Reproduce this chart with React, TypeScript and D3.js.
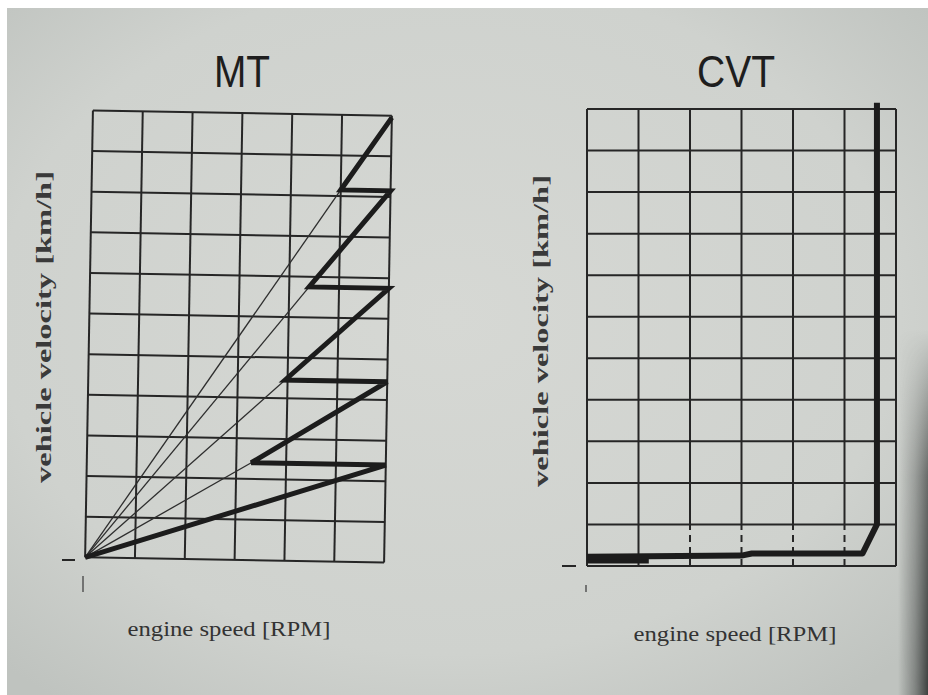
import { scaleLinear, line, range } from 'd3';

const W = 928;
const H = 695;
const GRID_COLS = 6;
const GRID_ROWS = 11;

// MT: vehicle velocity at each upshift and engine speed right after it (grid units)
const mtShiftVelocity = [2.4, 4.45, 6.75, 9.15];
const mtShiftRpm = [3.3, 3.95, 4.4, 5.0];
const mtRedline = 6;
const mtTopVelocity = 10.95;

// CVT: engine speed held nearly constant while velocity climbs
const cvtRpm = [0, 3.0, 3.2, 5.35, 5.63, 5.63];
const cvtVelocity = [0.22, 0.25, 0.3, 0.3, 1.0, 11.15];
const cvtLaunchRpm = [0, 1.2];
const cvtLaunchVelocity = [0.17, 0.17];

const titles = ['MT', 'CVT'];
const xLabel = 'engine speed [RPM]';
const yLabel = 'vehicle velocity [km/h]';

const INK = '#262626';

type Pt = [number, number];

const Grid = ({ x, y, dashedBottom }: { x: any; y: any; dashedBottom: number[] }) => (
  <g stroke={INK} strokeWidth={2} fill="none">
    {range(GRID_COLS + 1).map((i) =>
      dashedBottom.includes(i) ? (
        <g key={'v' + i}>
          <line x1={x(i)} x2={x(i)} y1={y(1)} y2={y(GRID_ROWS)} />
          <line x1={x(i)} x2={x(i)} y1={y(0)} y2={y(1)} strokeDasharray="7 5" />
        </g>
      ) : (
        <line key={'v' + i} x1={x(i)} x2={x(i)} y1={y(0)} y2={y(GRID_ROWS)} />
      )
    )}
    {range(GRID_ROWS + 1).map((j) => (
      <line key={'h' + j} x1={x(0)} x2={x(GRID_COLS)} y1={y(j)} y2={y(j)} />
    ))}
  </g>
);

const Labels = ({ cx, title, titleW, xl, yl }: { cx: number; title: string; titleW: number; xl: Pt; yl: Pt }) => (
  <g fill={INK}>
    <text
      x={cx}
      y={87}
      textAnchor="middle"
      fontFamily="Liberation Sans, Arial, sans-serif"
      fontSize={44}
      textLength={titleW}
      lengthAdjust="spacingAndGlyphs"
      fill="#1e1e1e"
    >
      {title}
    </text>
    <text
      x={xl[0]}
      y={xl[1]}
      textAnchor="middle"
      fontFamily="Liberation Serif, Times New Roman, serif"
      fontSize={22}
      textLength={203}
      lengthAdjust="spacingAndGlyphs"
      fill="#333"
    >
      {xLabel}
    </text>
    <text
      transform={`translate(${yl[0]}, ${yl[1]}) rotate(-90)`}
      textAnchor="middle"
      dominantBaseline="middle"
      fontFamily="Liberation Serif, Times New Roman, serif"
      fontWeight="bold"
      fontSize={20}
      textLength={312}
      lengthAdjust="spacingAndGlyphs"
      fill="#3a3a3a"
    >
      {yLabel}
    </text>
  </g>
);

const MTPanel = () => {
  const x = scaleLinear().domain([0, GRID_COLS]).range([89, 388]);
  const y = scaleLinear().domain([0, GRID_ROWS]).range([560, 113]);
  const path = line<Pt>()
    .x((d) => x(d[0]))
    .y((d) => y(d[1]));

  const thick: Pt[] = [[0, 0]];
  mtShiftVelocity.forEach((v, i) => {
    thick.push([mtRedline, v]);
    thick.push([mtShiftRpm[i], v]);
  });
  thick.push([mtRedline, mtTopVelocity]);

  return (
    <g>
      <g transform={`rotate(1, ${x(3)}, ${y(5.5)})`}>
        <Grid x={x} y={y} dashedBottom={[]} />
        <g fill="none" stroke="#2e2e2e" strokeWidth={1.3}>
          {mtShiftVelocity.map((v, i) => (
            <path key={i} d={path([[0, 0], [mtShiftRpm[i], v]]) ?? ''} />
          ))}
        </g>
        <path d={path(thick) ?? ''} fill="none" stroke="#1c1c1c" strokeWidth={5} strokeLinejoin="miter" strokeMiterlimit={3} />
      </g>
      <line x1={62} x2={75} y1={560} y2={560} stroke={INK} strokeWidth={2} />
      <line x1={83} x2={83} y1={576} y2={592} stroke="#555" strokeWidth={1.5} />
      <Labels cx={242} title={titles[0]} titleW={56} xl={[229, 636]} yl={[46, 327]} />
    </g>
  );
};

const CVTPanel = () => {
  const x = scaleLinear().domain([0, GRID_COLS]).range([587, 896]);
  const y = scaleLinear().domain([0, GRID_ROWS]).range([566, 109]);
  const path = line<Pt>()
    .x((d) => x(d[0]))
    .y((d) => y(d[1]));
  const main: Pt[] = cvtRpm.map((r, i) => [r, cvtVelocity[i]]);
  const launch: Pt[] = cvtLaunchRpm.map((r, i) => [r, cvtLaunchVelocity[i]]);

  return (
    <g>
      <Grid x={x} y={y} dashedBottom={[2, 3, 4, 5]} />
      <path d={path(launch) ?? ''} fill="none" stroke="#1c1c1c" strokeWidth={9} />
      <path d={path(main) ?? ''} fill="none" stroke="#1c1c1c" strokeWidth={6} strokeLinejoin="round" />
      <line x1={562} x2={576} y1={566} y2={566} stroke={INK} strokeWidth={2} />
      <line x1={586} x2={586} y1={585} y2={592} stroke="#555" strokeWidth={1.5} />
      <Labels cx={736} title={titles[1]} titleW={78} xl={[735, 641]} yl={[543, 331]} />
    </g>
  );
};

export default function App() {
  return (
    <svg width={W} height={H} style={{ position: 'absolute', left: 0, top: 0 }}>
      <defs>
        <radialGradient id="paper" cx="48%" cy="45%" r="70%">
          <stop offset="0%" stopColor="#d6d8d4" />
          <stop offset="70%" stopColor="#cfd2ce" />
          <stop offset="100%" stopColor="#bfc3bf" />
        </radialGradient>
        <linearGradient id="edgeH" x1="0" x2="1" y1="0" y2="0">
          <stop offset="0%" stopColor="#3a3d3c" stopOpacity={0} />
          <stop offset="55%" stopColor="#3a3d3c" stopOpacity={0.45} />
          <stop offset="100%" stopColor="#2f3231" stopOpacity={0.9} />
        </linearGradient>
        <linearGradient id="edgeV" x1="0" x2="0" y1="0" y2="1">
          <stop offset="0%" stopColor="#fff" stopOpacity={0} />
          <stop offset="40%" stopColor="#fff" stopOpacity={0.7} />
          <stop offset="100%" stopColor="#fff" stopOpacity={1} />
        </linearGradient>
        <mask id="edgeMask">
          <rect x={880} y={330} width={48} height={365} fill="url(#edgeV)" />
        </mask>
      </defs>
      <rect width={W} height={H} fill="#ffffff" />
      <rect x={7} y={8} width={W - 7} height={H - 8} fill="url(#paper)" />
      <rect x={898} y={330} width={30} height={365} fill="url(#edgeH)" mask="url(#edgeMask)" />
      <MTPanel />
      <CVTPanel />
    </svg>
  );
}
